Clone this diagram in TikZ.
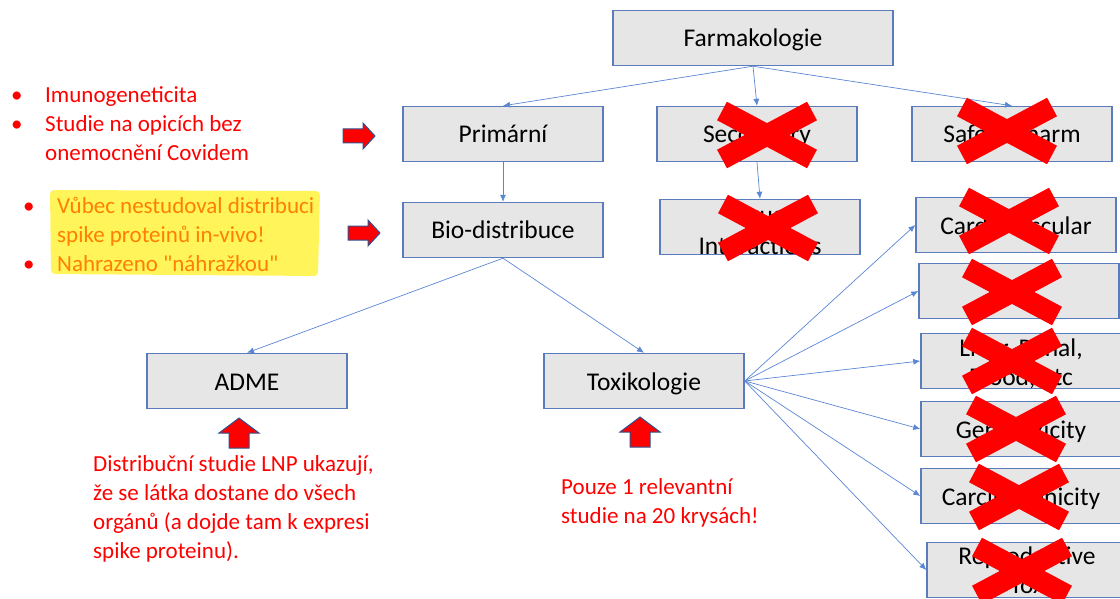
\documentclass[tikz,border=0pt]{standalone}
\usepackage{fontspec}
\setmainfont{Carlito}
\newfontfamily\rawfont{Carlito}
\usetikzlibrary{arrows.meta}
\definecolor{boxfill}{RGB}{231,230,230}
\definecolor{boxline}{RGB}{91,124,188}
\definecolor{link}{RGB}{90,134,212}
\definecolor{hilite}{RGB}{255,244,90}
\definecolor{hinote}{RGB}{255,128,0}
\definecolor{arrline}{RGB}{47,82,143}
\newcommand{\redcross}[1]{\draw[xline, shift={(#1)}] (-45,-24) -- (45,24) (-45,24) -- (45,-24);}
\newcommand{\rightblock}[1]{\draw[ba, shift={(#1)}] (-16,-7) -- (4,-7) -- (4,-13) -- (16,0) -- (4,13) -- (4,7) -- (-16,7) -- cycle;}
\newcommand{\upblock}[1]{\draw[ba, shift={(#1)}] (-10,15) -- (-10,0) -- (-20,0) -- (0,-15) -- (20,0) -- (10,0) -- (10,15) -- cycle;}
\newcommand{\dn}[2]{\raisebox{-#1}[\height][\depth]{#2}}
\begin{document}
\begin{tikzpicture}[x=1pt, y=-1pt,
	bx/.style = {rectangle, draw=boxline, fill=boxfill, line width=1.4pt, minimum width=200pt, minimum height=55pt, inner sep=0pt, align=center, font=\fontsize{25.5}{29}\selectfont},
	b/.style = {bx, text height=21pt, text depth=3pt},
	l/.style = {-{Latex[length=7pt,width=6pt]}, draw=link, line width=0.7pt},
	n/.style = {text=red, align=left, inner sep=0pt, font=\fontsize{23}{29}\selectfont},
	ba/.style = {draw=arrline, fill=red, line width=1pt, line join=miter},
	xline/.style = {draw=red, line width=21pt}
	]
	\useasboundingbox (0,0) rectangle (1120,599);

	%Nodes
	\node[b, minimum width=280pt]	(farm)	at	(753, 38)	{Farmakologie};
	\node[b]	(prim)	at	(503, 134)	{Primární};
	\node[b]	(sec)	at	(757, 134)	{Secondary};
	\node[b]	(safe)	at	(1012, 134)	{Safety Pharm};
	\node[b]	(bio)	at	(503, 230)	{Bio-distribuce};
	\node[bx, font=\fontsize{25.5}{31}\selectfont]	(drug)	at	(760, 227)	{\dn{4pt}{Drug}\\\dn{4pt}{Interactions}};
	\node[b]	(adme)	at	(247, 381)	{ADME};
	\node[b]	(tox)	at	(644, 381)	{Toxikologie};
	\node[b]	(cardio)	at	(1016, 225)	{Cardiovascular};
	\node[b]	(blank)	at	(1019, 291)	{};
	\node[bx]	(liver)	at	(1021, 361)	{\dn{3pt}{Liver, Renal,}\\\dn{3pt}{Blood, etc}};
	\node[b]	(geno)	at	(1021, 429)	{Genotoxicity};
	\node[b]	(carc)	at	(1021, 496)	{Carcinogenicity};
	\node[bx]	(repro)	at	(1027, 570)	{Reproductive\\Tox};

	%Notes
	\fill[hilite, rounded corners=4pt] (50,190) -- (320,191) -- (318,276) -- (51,274) -- cycle;
	\node[n, anchor=west]	(imm)	at	(11, 126)
		{\begin{tabular}{@{}p{34pt}@{}l@{}}•&Imunogeneticita\\ •&Studie na opicích bez\\ &onemocnění Covidem\end{tabular}};
	\node[n, anchor=west]	(spike)	at	(23, 237)
		{\begin{tabular}{@{}p{34pt}@{}l@{}}•&\textcolor{hinote}{Vůbec nestudoval distribuci}\\ &\textcolor{hinote}{spike proteinů in-vivo!}\\ •&\textcolor{hinote}{Nahrazeno {\rawfont"}náhražkou{\rawfont"}}\end{tabular}};
	\node[n, anchor=west]	(lnp)	at	(93, 509)
		{Distribuční studie LNP ukazují,\\že se látka dostane do všech\\orgánů (a dojde tam k expresi\\spike proteinu).};
	\node[n, anchor=west]	(rats)	at	(561, 503)
		{Pouze 1 relevantní\\studie na 20 krysách!};

	%Block arrows
	\rightblock{359, 136}
	\rightblock{364, 233}
	\upblock{239, 433}
	\upblock{640, 432}

	%Lines
	\draw[l]	(farm.south)	--	(prim.north);
	\draw[l]	(farm.south)	--	(sec.north);
	\draw[l]	(farm.south)	--	(safe.north);
	\draw[l]	(prim.south)	--	(bio.north);
	\draw[l]	(sec.south)	--	(drug.north);
	\draw[l]	(bio.south)	--	(adme.north);
	\draw[l]	(bio.south)	--	(tox.north);
	\foreach \t in {cardio, blank, liver, geno, carc, repro}
		\draw[l]	(tox.east)	--	(\t.west);

	%Crosses
	\redcross{767, 135}
	\redcross{1007, 131}
	\redcross{768, 228}
	\redcross{1009, 221}
	\redcross{1012, 292}
	\redcross{1012, 361}
	\redcross{1016, 429}
	\redcross{1019, 497}
	\redcross{1022, 571}
\end{tikzpicture}
\end{document}
